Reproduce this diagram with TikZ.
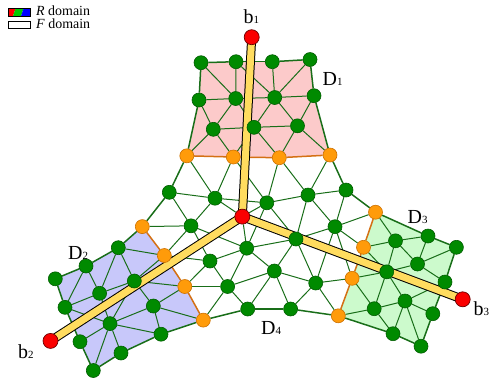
\documentclass[tikz,border=0pt]{standalone}
\usepackage{fontspec}
\setmainfont{Liberation Serif}
\definecolor{ngreen}{RGB}{0,138,0}
\definecolor{ngreenb}{RGB}{0,92,0}
\definecolor{norange}{RGB}{255,155,10}
\definecolor{norangeb}{RGB}{205,112,0}
\definecolor{nred}{RGB}{250,0,0}
\definecolor{nredb}{RGB}{110,0,0}
\definecolor{egreen}{RGB}{25,110,25}
\definecolor{eorange}{RGB}{212,112,20}
\definecolor{dpink}{RGB}{252,202,202}
\definecolor{dblue}{RGB}{200,200,250}
\definecolor{dgreen}{RGB}{204,250,204}
\definecolor{baryel}{RGB}{255,220,95}
\pgfdeclarelayer{bg}
\pgfdeclarelayer{mid}
\pgfsetlayers{bg,mid,main}
\newcommand{\lbl}[2]{{\fontsize{20}{24}\selectfont #1}{\fontsize{11}{13}\selectfont #2}}
\begin{document}
\begin{tikzpicture}[x=1bp,y=-1bp,
 gn/.style={circle,minimum size=14bp,inner sep=0,fill=ngreen,draw=ngreenb,line width=0.6bp},
 on/.style={circle,minimum size=14bp,inner sep=0,fill=norange,draw=norangeb,line width=0.6bp},
 rn/.style={circle,minimum size=15bp,inner sep=0,fill=nred,draw=nredb,line width=0.7bp},
 ie/.style={draw=egreen,line width=1bp},
 be/.style={draw=egreen,line width=1.5bp},
 oe/.style={draw=eorange,line width=1.5bp},
 lab/.style={anchor=base west,inner sep=0},
 leg/.style={anchor=base west,inner sep=0,font=\fontsize{14}{16}\selectfont}]
\useasboundingbox (0,0) rectangle (490,379);

% ---- D1 ----
\node[gn] (t1) at (201,62.7) {};
\node[gn] (t2) at (236,61.7) {};
\node[gn] (t3) at (272.3,61.7) {};
\node[gn] (t4) at (310,59.5) {};
\node[gn] (m1) at (199,100) {};
\node[gn] (m2) at (235.7,98.5) {};
\node[gn] (m3) at (274.7,97.5) {};
\node[gn] (m4) at (314,95.7) {};
\node[gn] (l1) at (213.3,129.3) {};
\node[gn] (l2) at (254,127.3) {};
\node[gn] (l3) at (297.5,125.8) {};
\node[on] (o1) at (186.8,155.8) {};
\node[on] (o2) at (233.3,157) {};
\node[on] (o3) at (279.3,157.7) {};
\node[on] (o4) at (330,155) {};
\node[rn] (b1) at (251.7,37.2) {};
% ---- centre ----
\node[rn] (r) at (242.3,216.6) {};
\node[gn] (c1) at (169.3,192.3) {};
\node[gn] (c2) at (215,198.2) {};
\node[gn] (c3) at (266.8,202.8) {};
\node[gn] (c4) at (191,225.8) {};
\node[gn] (c5) at (246.7,248.2) {};
\node[gn] (c6) at (210,261) {};
\node[gn] (c7) at (274.3,271) {};
\node[gn] (c8) at (308,195) {};
\node[gn] (c9) at (346,190) {};
\node[gn] (c10) at (335,226.7) {};
\node[gn] (c11) at (296,239) {};
\node[gn] (c13) at (315.7,283) {};
\node[gn] (c14) at (227.6,286.5) {};
\node[gn] (c15) at (247.7,309) {};
\node[gn] (c16) at (290.6,309) {};
\node[on] (ol1) at (142.3,226.6) {};
\node[on] (ol2) at (164.3,255.5) {};
\node[on] (ol3) at (184.8,286.5) {};
\node[on] (ol4) at (203.3,320.1) {};
\node[on] (or1) at (375.5,212.2) {};
\node[on] (or2) at (363.5,247.3) {};
\node[on] (or3) at (352.1,278.3) {};
\node[on] (or4) at (338.3,315.8) {};
% ---- D2 ----
\node[gn] (a1) at (118.3,247.7) {};
\node[gn] (a2) at (86,266) {};
\node[gn] (a3) at (55.3,278.8) {};
\node[gn] (a4) at (134.3,281) {};
\node[gn] (a5) at (99.6,293.3) {};
\node[gn] (a6) at (65,307.3) {};
\node[gn] (a7) at (153.3,306) {};
\node[gn] (a8) at (110,323.6) {};
\node[gn] (a9) at (161,334.2) {};
\node[gn] (a10) at (80,341.7) {};
\node[gn] (a11) at (121,353) {};
\node[gn] (a12) at (93.3,370.5) {};
\node[rn] (b2) at (50.5,340.9) {};
% ---- D3 ----
\node[gn] (e1) at (395.5,240.8) {};
\node[gn] (e2) at (428,236) {};
\node[gn] (e3) at (456.4,247.3) {};
\node[gn] (e4) at (417.5,264) {};
\node[gn] (e5) at (386.7,271.8) {};
\node[gn] (e6) at (445,282) {};
\node[gn] (e7) at (374.2,308.7) {};
\node[gn] (e8) at (405,301) {};
\node[gn] (e9) at (432.8,313.7) {};
\node[gn] (e10) at (393,333.7) {};
\node[gn] (e11) at (421,346.2) {};
\node[rn] (b3) at (462.7,299.3) {};

% ---- labels ----
\node[lab] (lb1) at (243.5,23) {\lbl{b}{1}};
\node[lab] (lb2) at (18,358.3) {\lbl{b}{2}};
\node[lab] (lb3) at (473.5,315) {\lbl{b}{3}};
\node[lab] (ld1) at (322.5,85) {\lbl{D}{1}};
\node[lab] (ld2) at (68,259) {\lbl{D}{2}};
\node[lab] (ld3) at (407.5,223.3) {\lbl{D}{3}};
\node[lab] (ld4) at (261,334.3) {\lbl{D}{4}};

% ---- legend ----
\fill[red] (8,8.5) -- (15.5,8.5) -- (13,16) -- (8,16) -- cycle;
\fill[green!80!black] (15.5,8.5) -- (23.5,8.5) -- (21,16) -- (13,16) -- cycle;
\fill[blue] (23.5,8.5) -- (30,8.5) -- (30,16) -- (21,16) -- cycle;
\draw[line width=0.6bp] (8,8.5) rectangle (30,16);
\draw[line width=0.6bp,fill=white] (8,21) rectangle (30,28.5);
\node[leg] (legr) at (36,15.5) {\textit{R} domain};
\node[leg] (legf) at (36,28.3) {\textit{F} domain};

\begin{pgfonlayer}{bg}
% fills
\fill[dpink] (t1.center) -- (t2.center) -- (t3.center) -- (t4.center) -- (m4.center) -- (o4.center) -- (o3.center) -- (o2.center) -- (o1.center) -- (m1.center) -- cycle;
\fill[dblue] (ol1.center) -- (a1.center) -- (a2.center) -- (a3.center) -- (a6.center) -- (a10.center) -- (a12.center) -- (a11.center) -- (a9.center) -- (ol4.center) -- (ol3.center) -- (ol2.center) -- cycle;
\fill[dgreen] (or1.center) -- (e2.center) -- (e3.center) -- (e6.center) -- (e9.center) -- (e11.center) -- (e10.center) -- (or4.center) -- (or3.center) -- (or2.center) -- cycle;
% interior edges
\foreach \u/\v in {t1/m2,t2/m2,t2/m3,t3/m3,t4/m3,m1/m2,m2/m3,m3/m4,m1/l1,m2/l1,m2/l2,m3/l2,m3/l3,m4/l3,l1/l2,l2/l3,l1/o1,l1/o2,l2/o2,l2/o3,l3/o3,l3/o4,
 o1/c2,o2/c2,o2/c3,o3/c3,o3/c8,o4/c8,c1/c2,c1/c4,c2/c4,c2/c3,c2/r,c3/r,c3/c8,c3/c11,c3/c5,c8/c9,c8/c10,c8/c11,c9/c10,c10/or1,c10/or2,c10/c11,c10/c13,c10/or3,
 c11/c5,c11/c7,c11/c13,c11/r,r/c5,c4/ol1,c4/ol2,c4/c5,c4/c6,c5/c6,c5/c7,c5/c14,c6/ol2,c6/ol3,c6/c14,c7/c14,c7/c15,c7/c16,c7/c13,c13/c16,c13/or3,c13/or4,
 c14/ol3,c14/ol4,c14/c15,
 ol2/a1,ol2/a4,ol3/a4,ol3/a7,ol4/a7,
 a1/a4,a1/a5,a2/a5,a2/a6,a5/a6,a5/a4,a5/a8,a6/a8,a4/a7,a4/a8,a7/a8,a7/a9,a8/a9,a8/a10,a8/a11,a8/a12,
 or1/e1,or2/e1,e1/e2,e1/e4,e1/e5,e2/e4,e3/e4,e4/e5,e4/e6,or2/e5,or3/e5,or3/e7,e5/e7,e5/e8,e6/e8,e7/or4,e7/e8,e7/e10,e8/e9,e8/e10,e8/e11}
 {\path[ie] (\u) -- (\v);}
% boundary edges
\foreach \u/\v in {t1/t2,t2/t3,t3/t4,t1/m1,m1/o1,t4/m4,m4/o4,o1/c1,c1/ol1,o4/c9,c9/or1,ol4/c15,c15/c16,c16/or4,
 ol1/a1,a1/a2,a2/a3,a3/a6,a6/a10,a10/a12,a12/a11,a11/a9,a9/ol4,
 or1/e2,e2/e3,e3/e6,e6/e9,e9/e11,e11/e10,e10/or4}
 {\path[be] (\u) -- (\v);}
% orange edges
\foreach \u/\v in {o1/o2,o2/o3,o3/o4,ol1/ol2,ol2/ol3,ol3/ol4,or1/or2,or2/or3,or3/or4}
 {\path[oe] (\u) -- (\v);}
\end{pgfonlayer}

\begin{pgfonlayer}{mid}
\draw[black,line width=9bp,line join=round] (b1.center) -- (r.center) -- (b2.center);
\draw[black,line width=9bp,line join=round] (r.center) -- (b3.center);
\draw[baryel,line width=7bp,line join=round] (b1.center) -- (r.center) -- (b2.center);
\draw[baryel,line width=7bp,line join=round] (r.center) -- (b3.center);
\end{pgfonlayer}
\end{tikzpicture}
\end{document}
